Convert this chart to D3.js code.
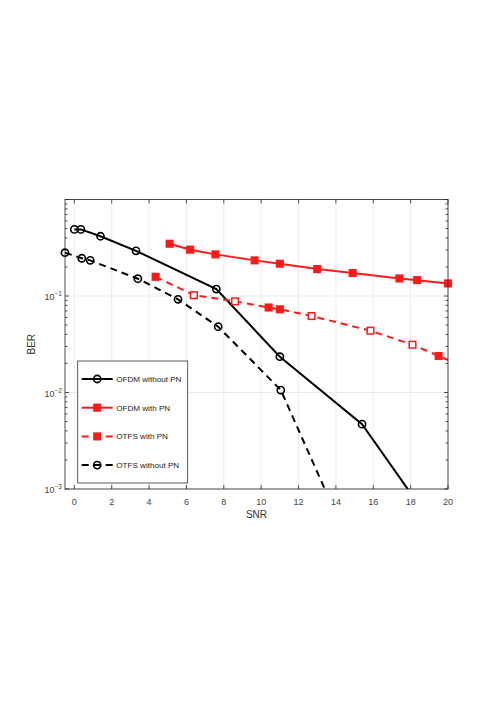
<!DOCTYPE html>
<html>
<head>
<meta charset="utf-8">
<script src="https://cdn.jsdelivr.net/npm/d3@7"></script>
<style>
  body { margin: 0; background: #fff; }
  text { font-family: "Liberation Sans", Arial, sans-serif; }
</style>
</head>
<body>
<div class="chart"></div>
<script>
// values
var seriesNames = ["OFDM without PN", "OFDM with PN", "OTFS with PN", "OTFS without PN"];

var snrOfdmNoPn = [0, 0.35, 1.4, 3.3, 7.6, 11, 15.4, 19.8];
var berOfdmNoPn = [0.49, 0.49, 0.416, 0.294, 0.118, 0.0235, 0.0047, 0.00029];

var snrOfdmPn = [5.1, 6.2, 7.55, 9.65, 11, 13, 14.9, 17.4, 18.35, 20];
var berOfdmPn = [0.348, 0.302, 0.27, 0.234, 0.216, 0.19, 0.173, 0.152, 0.146, 0.135];

var snrOtfsPn = [4.35, 6.4, 8.6, 10.4, 11, 12.7, 15.85, 18.1, 19.5, 20.5];
var berOtfsPn = [0.158, 0.102, 0.088, 0.076, 0.0728, 0.062, 0.0437, 0.0313, 0.0239, 0.0198];

var snrOtfsNoPn = [-0.5, 0.4, 0.85, 3.4, 5.55, 7.7, 11.05, 14];
var berOtfsNoPn = [0.281, 0.246, 0.234, 0.151, 0.0924, 0.0481, 0.0106, 0.00055];

var xTicks = [0, 2, 4, 6, 8, 10, 12, 14, 16, 18, 20];
var yTicks = [1e-3, 1e-2, 1e-1, 1];
var yTickExp = ["-3", "-2", "-1", "0"];

drawchart();

function drawchart() {
  var svgWidth = 496, svgHeight = 702;
  var margin = {top: 199.5, left: 65, right: 48, bottom: 213};
  var w = svgWidth - margin.left - margin.right,
      h = svgHeight - margin.top - margin.bottom;

  var svg = d3.select(".chart").append("svg")
      .attr("width", svgWidth)
      .attr("height", svgHeight);

  var g = svg.append("g")
      .attr("transform", "translate(" + margin.left + "," + margin.top + ")");

  var x = d3.scaleLinear().domain([-0.5, 20]).range([0, w]);
  var y = d3.scaleLog().domain([1e-3, 1]).range([h, 0]);

  // grid
  g.selectAll(".gx").data(xTicks).enter().append("line")
      .attr("x1", function(d) { return x(d); }).attr("x2", function(d) { return x(d); })
      .attr("y1", 0).attr("y2", h)
      .attr("stroke", "#e6e6e6").attr("stroke-width", 0.8);
  g.selectAll(".gy").data(yTicks).enter().append("line")
      .attr("x1", 0).attr("x2", w)
      .attr("y1", function(d) { return y(d); }).attr("y2", function(d) { return y(d); })
      .attr("stroke", "#e6e6e6").attr("stroke-width", 0.8);

  // minor log ticks
  var minor = [];
  [1e-3, 1e-2, 1e-1].forEach(function(dec) {
    for (var k = 2; k <= 9; k++) minor.push(dec * k);
  });

  var axisCol = "#262626";
  var ax = g.append("g").attr("stroke", axisCol).attr("stroke-width", 0.8);

  xTicks.forEach(function(t) {
    ax.append("line").attr("x1", x(t)).attr("x2", x(t)).attr("y1", h).attr("y2", h - 4);
    ax.append("line").attr("x1", x(t)).attr("x2", x(t)).attr("y1", 0).attr("y2", 4);
  });
  yTicks.forEach(function(t) {
    ax.append("line").attr("x1", 0).attr("x2", 4).attr("y1", y(t)).attr("y2", y(t));
    ax.append("line").attr("x1", w).attr("x2", w - 4).attr("y1", y(t)).attr("y2", y(t));
  });
  minor.forEach(function(t) {
    ax.append("line").attr("x1", 0).attr("x2", 2.5).attr("y1", y(t)).attr("y2", y(t));
    ax.append("line").attr("x1", w).attr("x2", w - 2.5).attr("y1", y(t)).attr("y2", y(t));
  });

  // tick labels
  g.selectAll(".xl").data(xTicks).enter().append("text")
      .attr("x", function(d) { return x(d); })
      .attr("y", h + 16)
      .attr("text-anchor", "middle")
      .attr("font-size", 9)
      .attr("fill", "#444")
      .text(function(d) { return d; });

  var yl = g.selectAll(".yl").data(yTicks.slice(0, 3)).enter().append("text")
      .attr("x", -3)
      .attr("y", function(d) { return y(d) + 4; })
      .attr("text-anchor", "end")
      .attr("font-size", 9)
      .attr("fill", "#444");
  yl.append("tspan").text("10");
  yl.append("tspan").attr("dy", -4).attr("font-size", 6.5)
      .text(function(d, i) { return yTickExp[i].replace("-", "\u2212"); });

  // axis labels
  g.append("text")
      .attr("x", w / 2).attr("y", h + 29)
      .attr("text-anchor", "middle").attr("font-size", 10).attr("fill", "#333")
      .text("SNR");
  g.append("text")
      .attr("transform", "translate(" + (-30) + "," + (h / 2) + ") rotate(-90)")
      .attr("text-anchor", "middle").attr("font-size", 10).attr("fill", "#333")
      .text("BER");

  // clip for lines
  svg.append("defs").append("clipPath").attr("id", "plotclip")
    .append("rect").attr("x", 0).attr("y", 0).attr("width", w).attr("height", h);

  var series = [
    {name: seriesNames[0], xs: snrOfdmNoPn, ys: berOfdmNoPn, color: "#000", dash: null, marker: "circle"},
    {name: seriesNames[1], xs: snrOfdmPn, ys: berOfdmPn, color: "#ff1a1a", dash: null, marker: "square"},
    {name: seriesNames[2], xs: snrOtfsPn, ys: berOtfsPn, color: "#ff1a1a", dash: "7,5", marker: "square"},
    {name: seriesNames[3], xs: snrOtfsNoPn, ys: berOtfsNoPn, color: "#000", dash: "7,5", marker: "circle"}
  ];
  // markers that look hollow in the picture (OTFS with PN)
  var hollowOtfsPn = [1, 2, 5, 6, 7];

  var line = d3.line()
      .x(function(d) { return x(d[0]); })
      .y(function(d) { return y(d[1]); });

  var lines = g.append("g").attr("clip-path", "url(#plotclip)");

  series.forEach(function(s, si) {
    var pts = s.xs.map(function(v, i) { return [v, s.ys[i]]; });
    lines.append("path")
        .datum(pts)
        .attr("d", line)
        .attr("fill", "none")
        .attr("stroke", s.color)
        .attr("stroke-width", 2)
        .attr("stroke-dasharray", s.dash);

    var inside = pts.map(function(p, i) { return {p: p, i: i}; }).filter(function(o) {
      return o.p[0] >= -0.6 && o.p[0] <= 20 && o.p[1] >= 1e-3 && o.p[1] <= 1;
    });
    var mg = g.append("g");
    if (s.marker === "circle") {
      mg.selectAll("circle").data(inside).enter().append("circle")
          .attr("cx", function(o) { return x(o.p[0]); })
          .attr("cy", function(o) { return y(o.p[1]); })
          .attr("r", 3.6)
          .attr("fill", "none")
          .attr("stroke", s.color)
          .attr("stroke-width", 1.6);
    } else {
      mg.selectAll("rect").data(inside).enter().append("rect")
          .attr("x", function(o) { return x(o.p[0]) - 3.3; })
          .attr("y", function(o) { return y(o.p[1]) - 3.3; })
          .attr("width", 6.6).attr("height", 6.6)
          .attr("fill", function(o) {
            return (si === 2 && hollowOtfsPn.indexOf(o.i) >= 0) ? "#fff" : s.color;
          })
          .attr("stroke", s.color)
          .attr("stroke-width", 1.5);
    }
  });

  // box
  g.append("rect").attr("x", 0).attr("y", 0).attr("width", w).attr("height", h)
      .attr("fill", "none").attr("stroke", axisCol).attr("stroke-width", 0.8);

  // legend, lower left inside the axes
  var lg = g.append("g").attr("transform", "translate(12.7,161.5)");
  var lgW = 110, lgH = 122;
  lg.append("rect").attr("x", 0).attr("y", 0).attr("width", lgW).attr("height", lgH)
      .attr("fill", "#fff").attr("stroke", "#333").attr("stroke-width", 0.8);

  series.forEach(function(s, i) {
    var yy = 18 + i * 28.7;
    var row = lg.append("g").attr("transform", "translate(0," + yy + ")");
    row.append("line").attr("x1", 4).attr("x2", 35).attr("y1", 0).attr("y2", 0)
        .attr("stroke", s.color).attr("stroke-width", 2)
        .attr("stroke-dasharray", s.dash);
    if (s.marker === "circle") {
      row.append("circle").attr("cx", 19.5).attr("cy", 0).attr("r", 3.6)
          .attr("fill", "none").attr("stroke", s.color).attr("stroke-width", 1.6);
    } else {
      row.append("rect").attr("x", 16.2).attr("y", -3.3).attr("width", 6.6).attr("height", 6.6)
          .attr("fill", s.color).attr("stroke", s.color).attr("stroke-width", 1.5);
    }
    row.append("text").attr("x", 38.5).attr("y", 2.8)
        .attr("font-size", 8.1).attr("fill", "#222")
        .text(s.name);
  });
}
</script>
</body>
</html>
